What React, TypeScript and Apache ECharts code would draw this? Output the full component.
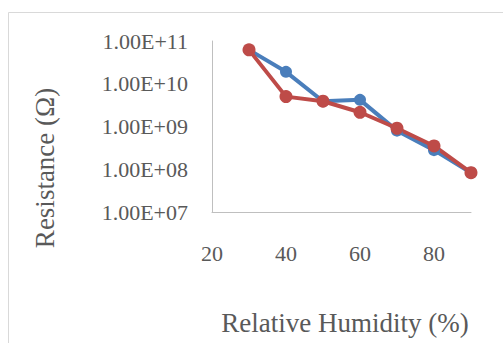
import React, { useEffect, useRef } from "react";
import * as echarts from "echarts";

const humidity = [30, 40, 50, 60, 70, 80, 90];
const seriesBlue = [6.2e10, 1.9e10, 3.9e9, 4.2e9, 8.0e8, 2.8e8, 8.3e7];
const seriesRed = [6.2e10, 5.0e9, 3.9e9, 2.15e9, 9.1e8, 3.5e8, 8.3e7];
const xTitle = "Relative Humidity (%)";
const yTitle = "Resistance (Ω)";

const FONT = "'Liberation Serif', 'Times New Roman', serif";
const TEXT = "#595959";

export default function App() {
  const ref = useRef<HTMLDivElement>(null);
  useEffect(() => {
    if (!ref.current) return;
    const chart = echarts.init(ref.current, undefined, { renderer: "svg" });
    const pairs = (ys: number[]) => humidity.map((x, i) => [x, ys[i]]);
    chart.setOption({
      animation: false,
      backgroundColor: "#ffffff",
      grid: { left: 212, top: 41, right: 32, bottom: 131, containLabel: false },
      xAxis: {
        type: "value",
        min: 20,
        max: 90,
        interval: 20,
        axisLine: { show: true, lineStyle: { color: "#bfbfbf", width: 1 } },
        axisTick: { show: false },
        splitLine: { show: false },
        axisLabel: {
          margin: 30,
          showMaxLabel: false,
          color: TEXT,
          fontFamily: FONT,
          fontSize: 22,
        },
      },
      yAxis: {
        type: "log",
        logBase: 10,
        min: 1e7,
        max: 1e11,
        axisLine: { show: true, lineStyle: { color: "#bfbfbf", width: 1 } },
        axisTick: { show: false },
        splitLine: { show: false },
        axisLabel: {
          margin: 24,
          color: TEXT,
          fontFamily: FONT,
          fontSize: 22,
          formatter: (v: number) => {
            const e = Math.round(Math.log10(v));
            return "1.00E+" + (e < 10 ? "0" + e : String(e));
          },
        },
      },
      graphic: [
        {
          type: "rect",
          silent: true,
          shape: { x: 8.5, y: 12.5, width: 700, height: 500 },
          style: { fill: "none", stroke: "#d9d9d9", lineWidth: 1 },
        },
        {
          type: "text",
          x: 345,
          y: 323,
          style: {
            text: xTitle,
            fill: TEXT,
            font: "27px " + FONT,
            textAlign: "center",
            textVerticalAlign: "middle",
          },
        },
        {
          type: "text",
          x: 45,
          y: 168,
          rotation: Math.PI / 2,
          style: {
            text: yTitle,
            fill: TEXT,
            font: "27px " + FONT,
            textAlign: "center",
            textVerticalAlign: "middle",
          },
        },
      ],
      series: [
        {
          type: "line",
          data: pairs(seriesBlue),
          symbol: "circle",
          symbolSize: 12,
          lineStyle: { color: "#4a7ebb", width: 4 },
          itemStyle: { color: "#4a7ebb" },
        },
        {
          type: "line",
          data: pairs(seriesRed),
          symbol: "circle",
          symbolSize: 13,
          lineStyle: { color: "#be4b48", width: 4 },
          itemStyle: { color: "#be4b48" },
        },
      ],
    });
    return () => chart.dispose();
  }, []);
  return (
    <div
      ref={ref}
      style={{ position: "fixed", left: 0, top: 0, width: 503, height: 343 }}
    />
  );
}
